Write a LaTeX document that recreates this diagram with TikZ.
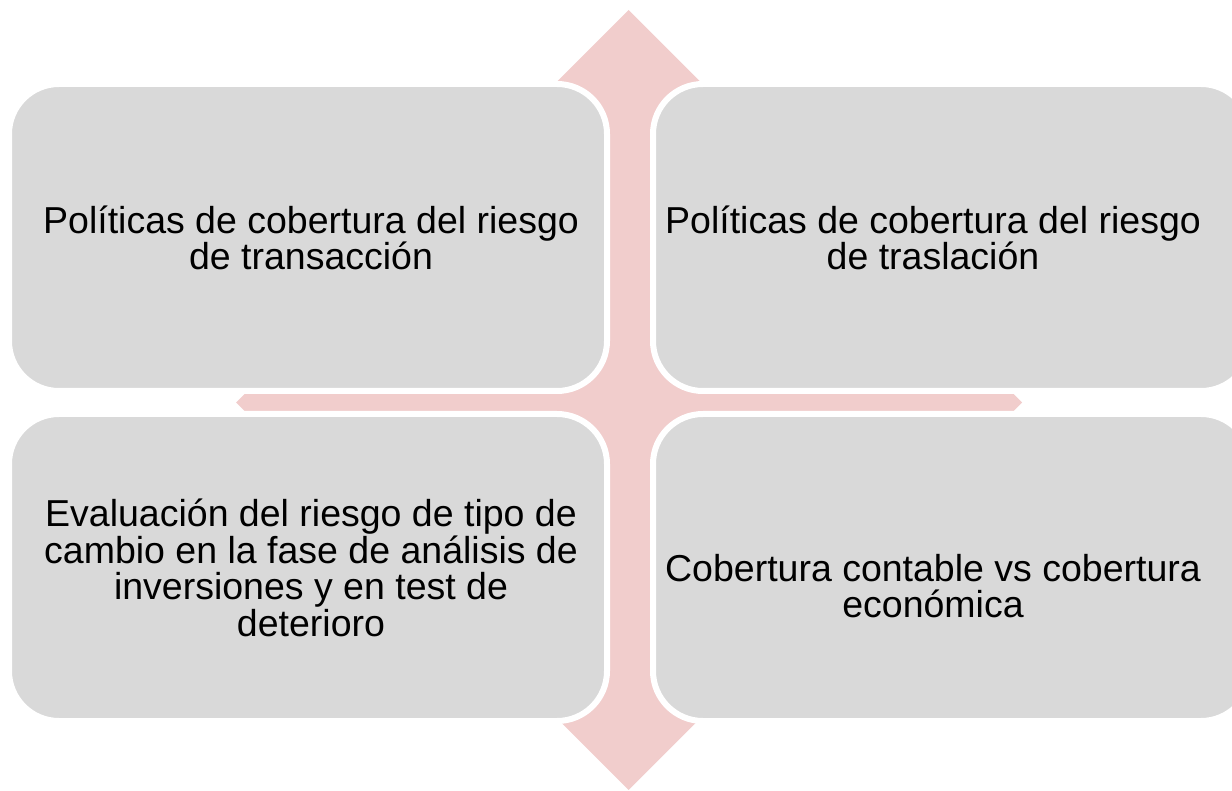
\documentclass[tikz,border=0pt]{standalone}
\usepackage{fontspec}
\setmainfont{Liberation Sans}
\definecolor{boxgray}{HTML}{D9D9D9}
\definecolor{arrowpink}{HTML}{F1CDCC}
\begin{document}
\begin{tikzpicture}[x=1pt,y=-1pt,
  box/.style={draw=white, line width=6pt, fill=boxgray, rounded corners=50pt,
    minimum width=598pt, minimum height=307pt, inner sep=0pt},
  txt/.style={align=center, inner sep=0pt,
    font=\fontsize{37.5}{36.7}\selectfont, text=black},
  arr/.style={fill=arrowpink, draw=none}]
\useasboundingbox (0,0) rectangle (1232,791);
% vertical pointed bar
\fill[arr] (628.5,10) -- (700,81.5) -- (700,718.5) -- (628.5,790) -- (557,718.5) -- (557,81.5) -- cycle;
% horizontal pointed bar
\fill[arr] (236,402.5) -- (245.5,393) -- (1012.5,393) -- (1022,402.5) -- (1012.5,412) -- (245.5,412) -- cycle;
\node[box] (tl) at (308,237.5) {};
\node[box] (tr) at (952,237.5) {};
\node[box] (bl) at (308,567.5) {};
\node[box] (br) at (952,567.5) {};
\node[txt] (tlt) at (311,238) {Políticas de cobertura del riesgo\\de transacción};
\node[txt] (trt) at (933,238) {Políticas de cobertura del riesgo\\de traslación};
\node[txt] (blt) at (311,568) {Evaluación del riesgo de tipo de\\cambio en la fase de análisis de\\inversiones y en test de\\deterioro};
\node[txt] (brt) at (933,586) {Cobertura contable vs cobertura\\económica};
\end{tikzpicture}
\end{document}
